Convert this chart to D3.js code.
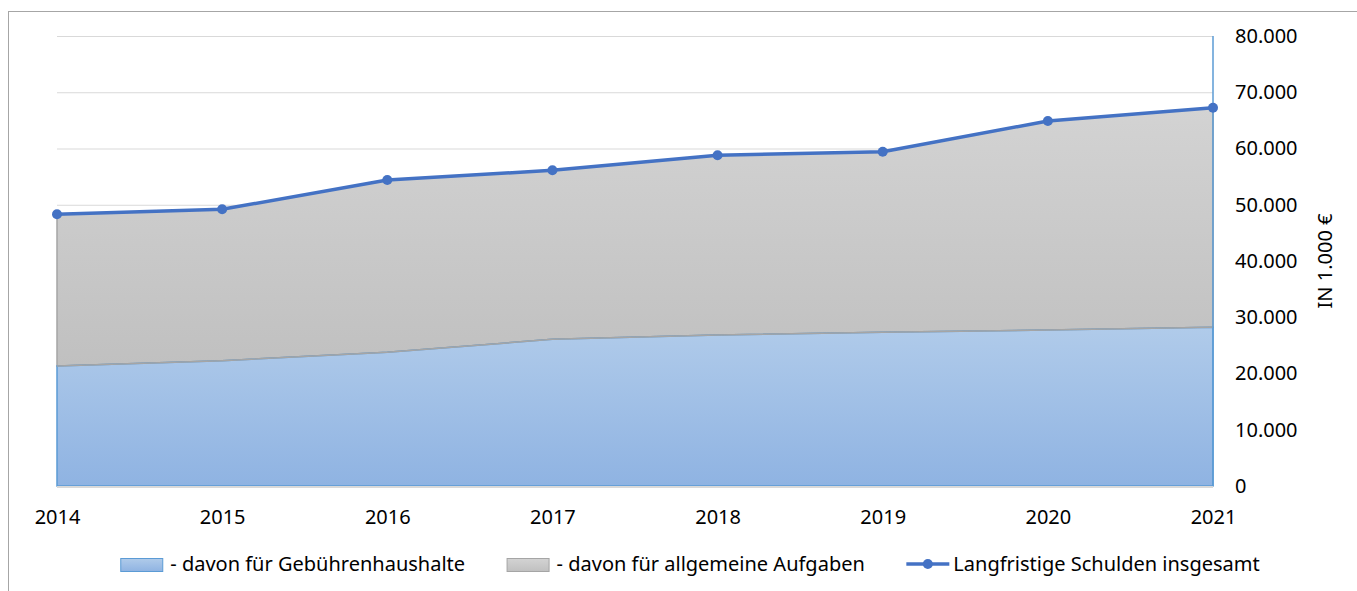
<!DOCTYPE html>
<html>
<head>
<meta charset="utf-8">
<script src="https://cdn.jsdelivr.net/npm/d3@7"></script>
<style>
  body { margin: 0; background: #fff; }
  text { font-family: "Noto Sans", "Open Sans", sans-serif; fill: #000; }
</style>
</head>
<body>
<div id="chart"></div>
<script>
var svgWidth = 1357;
var svgHeight = 591;

// data (in 1.000 €)
var years = ["2014", "2015", "2016", "2017", "2018", "2019", "2020", "2021"];
var gebuehren = [21330, 22280, 23770, 26080, 26840, 27320, 27730, 28210];
var allgemein = [26970, 26910, 30630, 30040, 31950, 32110, 37160, 39050];
var insgesamt = [48300, 49190, 54400, 56120, 58790, 59430, 64890, 67260];
var yTicks = [0, 10000, 20000, 30000, 40000, 50000, 60000, 70000, 80000];

var seriesNames = ["- davon für Gebührenhaushalte", "- davon für allgemeine Aufgaben", "Langfristige Schulden insgesamt"];

var margin = { top: 36, right: 144, bottom: 105, left: 57 };
var width = svgWidth - margin.left - margin.right;
var height = svgHeight - margin.top - margin.bottom;

var svg = d3.select("#chart")
  .append("svg")
  .attr("width", svgWidth)
  .attr("height", svgHeight);

// chart frame
svg.append("rect")
  .attr("x", 8.5)
  .attr("y", 11.5)
  .attr("width", 1400)
  .attr("height", 700)
  .attr("fill", "none")
  .attr("stroke", "#a6a6a6")
  .attr("stroke-width", 1);

var defs = svg.append("defs");

var blueGrad = defs.append("linearGradient")
  .attr("id", "blueGrad")
  .attr("x1", 0).attr("y1", 0).attr("x2", 0).attr("y2", 1);
blueGrad.append("stop").attr("offset", "0%").attr("stop-color", "#b0cbea");
blueGrad.append("stop").attr("offset", "100%").attr("stop-color", "#8fb3e2");

var greyGrad = defs.append("linearGradient")
  .attr("id", "greyGrad")
  .attr("x1", 0).attr("y1", 0).attr("x2", 0).attr("y2", 1);
greyGrad.append("stop").attr("offset", "0%").attr("stop-color", "#d3d3d3");
greyGrad.append("stop").attr("offset", "100%").attr("stop-color", "#c0c0c0");

var chartGroup = svg.append("g")
  .attr("transform", `translate(${margin.left}, ${margin.top})`);

var xScale = d3.scalePoint()
  .domain(years)
  .range([0, width]);

var yScale = d3.scaleLinear()
  .domain([0, 80000])
  .range([height, 0]);

var fmt = function(v) { return v === 0 ? "0" : d3.format(",")(v).replace(/,/g, "."); };

// gridlines
chartGroup.selectAll(".grid")
  .data(yTicks.filter(d => d > 0))
  .enter()
  .append("line")
  .attr("x1", 0)
  .attr("x2", width)
  .attr("y1", d => yScale(d) + 0.5)
  .attr("y2", d => yScale(d) + 0.5)
  .attr("stroke", "#d9d9d9")
  .attr("stroke-width", 1);

// stacked areas
var rows = years.map(function(y, i) {
  return { year: y, geb: gebuehren[i], allg: allgemein[i] };
});
var stack = d3.stack().keys(["geb", "allg"]);
var stacked = stack(rows);

var area = d3.area()
  .x(d => xScale(d.data.year))
  .y0(d => yScale(d[0]))
  .y1(d => yScale(d[1]));

chartGroup.append("path")
  .datum(stacked[1])
  .attr("d", area)
  .attr("fill", "url(#greyGrad)")
  .attr("stroke", "#a5a5a5")
  .attr("stroke-width", 1.5);

chartGroup.append("path")
  .datum(stacked[0])
  .attr("d", area)
  .attr("fill", "url(#blueGrad)")
  .attr("stroke", "#5b9bd5")
  .attr("stroke-width", 1.5);

// top edge of blue area is drawn grey
chartGroup.append("path")
  .datum(stacked[0])
  .attr("d", d3.line().x(d => xScale(d.data.year)).y(d => yScale(d[1])))
  .attr("fill", "none")
  .attr("stroke", "#a5a5a5")
  .attr("stroke-width", 1.5);

// x axis line
chartGroup.append("line")
  .attr("x1", 0)
  .attr("x2", width)
  .attr("y1", height + 1)
  .attr("y2", height + 1)
  .attr("stroke", "#d9d9d9")
  .attr("stroke-width", 2);

// right value axis line
chartGroup.append("line")
  .attr("x1", width)
  .attr("x2", width)
  .attr("y1", 0)
  .attr("y2", height)
  .attr("stroke", "#5b9bd5")
  .attr("stroke-width", 1.5);

// total line with markers
var line = d3.line()
  .x((d, i) => xScale(years[i]))
  .y(d => yScale(d));

chartGroup.append("path")
  .datum(insgesamt)
  .attr("d", line)
  .attr("fill", "none")
  .attr("stroke", "#4472c4")
  .attr("stroke-width", 3.5)
  .attr("stroke-linejoin", "round");

chartGroup.selectAll(".dot")
  .data(insgesamt)
  .enter()
  .append("circle")
  .attr("cx", (d, i) => xScale(years[i]))
  .attr("cy", d => yScale(d))
  .attr("r", 5)
  .attr("fill", "#4472c4");

// y axis on the right
var rightAxis = d3.axisRight(yScale)
  .tickValues(yTicks)
  .tickSize(0)
  .tickPadding(22)
  .tickFormat(fmt);

var yAxis = chartGroup.append("g")
  .attr("transform", `translate(${width}, 0)`)
  .call(rightAxis);
yAxis.select(".domain").remove();
yAxis.selectAll("text")
  .attr("font-size", "20px")
  .attr("font-family", "'Noto Sans', sans-serif")
  .attr("fill", "#000");

// x axis labels
var bottomAxis = d3.axisBottom(xScale)
  .tickSize(0)
  .tickPadding(24);

var xAxis = chartGroup.append("g")
  .attr("transform", `translate(0, ${height})`)
  .call(bottomAxis);
xAxis.select(".domain").remove();
xAxis.selectAll("text")
  .attr("font-size", "20px")
  .attr("font-family", "'Noto Sans', sans-serif")
  .attr("fill", "#000");

// axis title
chartGroup.append("text")
  .attr("transform", `translate(${width + 119}, ${height / 2}) rotate(-90)`)
  .attr("text-anchor", "middle")
  .attr("font-size", "20px")
  .text("IN 1.000 €");

// legend
var legend = svg.append("g")
  .attr("transform", "translate(0, 565)");

var items = legend.selectAll(".item")
  .data(seriesNames)
  .enter()
  .append("g")
  .attr("class", "item");

items.append("text")
  .attr("x", 50)
  .attr("y", 6)
  .attr("font-size", "20px")
  .text(d => d);

items.each(function(d, i) {
  var g = d3.select(this);
  if (i === 0) {
    g.append("rect").attr("x", 0.5).attr("y", -6.5).attr("width", 42).attr("height", 13)
      .attr("fill", "url(#blueGrad)").attr("stroke", "#5b9bd5");
  } else if (i === 1) {
    g.append("rect").attr("x", 0.5).attr("y", -6.5).attr("width", 42).attr("height", 13)
      .attr("fill", "url(#greyGrad)").attr("stroke", "#a5a5a5");
  } else {
    g.append("line").attr("x1", 0).attr("x2", 43).attr("y1", -1).attr("y2", -1)
      .attr("stroke", "#4472c4").attr("stroke-width", 3.5);
    g.append("circle").attr("cx", 21.5).attr("cy", -1).attr("r", 5).attr("fill", "#4472c4");
    g.select("text").attr("x", 47);
  }
});

// lay out legend items centred
var gap = 42;
var widths = [];
items.each(function() { widths.push(this.getBBox().width); });
var total = d3.sum(widths) + gap * (widths.length - 1);
var xPos = 690 - total / 2;
items.attr("transform", function(d, i) {
  var t = `translate(${xPos}, 0)`;
  xPos += widths[i] + gap;
  return t;
});
</script>
</body>
</html>
